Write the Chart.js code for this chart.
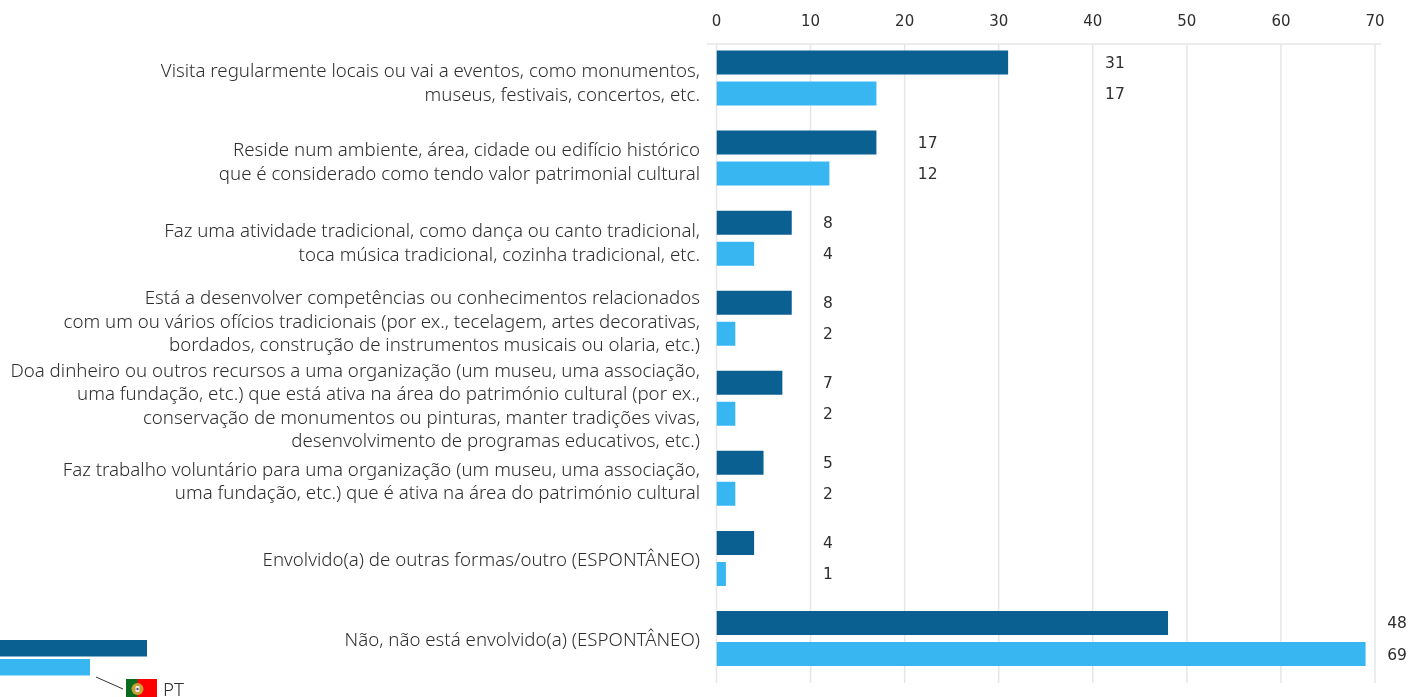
<!DOCTYPE html>
<html>
<head>
<meta charset="utf-8">
<style>
html, body { margin: 0; padding: 0; background: #fff; overflow: hidden; }
canvas { display: block; }
</style>
<script src="https://cdn.jsdelivr.net/npm/chart.js@4"></script>
</head>
<body>
<canvas id="grafico" width="1409" height="697"></canvas>
<script>
var categorias = [
    ["Visita regularmente locais ou vai a eventos, como monumentos,", "museus, festivais, concertos, etc."],
    ["Reside num ambiente, área, cidade ou edifício histórico", "que é considerado como tendo valor patrimonial cultural"],
    ["Faz uma atividade tradicional, como dança ou canto tradicional,", "toca música tradicional, cozinha tradicional, etc."],
    ["Está a desenvolver competências ou conhecimentos relacionados", "com um ou vários ofícios tradicionais (por ex., tecelagem, artes decorativas,", "bordados, construção de instrumentos musicais ou olaria, etc.)"],
    ["Doa dinheiro ou outros recursos a uma organização (um museu, uma associação,", "uma fundação, etc.) que está ativa na área do património cultural (por ex.,", "conservação de monumentos ou pinturas, manter tradições vivas,", "desenvolvimento de programas educativos, etc.)"],
    ["Faz trabalho voluntário para uma organização (um museu, uma associação,", "uma fundação, etc.) que é ativa na área do património cultural"],
    ["Envolvido(a) de outras formas/outro (ESPONTÂNEO)"],
    ["Não, não está envolvido(a) (ESPONTÂNEO)"]
]
var serieEscura = [31, 17, 8, 8, 7, 5, 4, 48]
var serieClara = [17, 12, 4, 2, 2, 2, 1, 69]
var ticksX = [0, 10, 20, 30, 40, 50, 60, 70]

// where the value column of each group sits, in axis units
var colunaValores = [42.35, 22.45, 11.85, 11.85, 11.85, 11.85, 11.85, 72.35]
// the text blocks are not quite centred on the bars
var desvioTexto = [5.5, 4.5, 5.5, 4, 8.5, 4, 2.5, 2.5]

var corEscura = "#0b6092"
var corClara = "#38b6f1"
var corTexto = "#2e2e2e"
var corGrelha = "#e6e6e6"
var fonteTexto = '300 18.7px "Noto Sans", sans-serif'
var fonteValor = '15.5px "DejaVu Sans", sans-serif'

const extras = {
    id: "extras",
    beforeDatasetsDraw(chart) {
        const c = chart.ctx
        const x = chart.scales.x
        c.save()
        c.strokeStyle = corGrelha
        c.lineWidth = 1.5
        ticksX.forEach(t => {
            const px = x.getPixelForValue(t)
            c.beginPath()
            c.moveTo(px, 44)
            c.lineTo(px, 683)
            c.stroke()
        })
        c.beginPath()
        c.moveTo(707, 44)
        c.lineTo(1381, 44)
        c.stroke()
        c.restore()
    },
    afterDatasetsDraw(chart) {
        const c = chart.ctx
        const x = chart.scales.x
        const y = chart.scales.y
        const meta0 = chart.getDatasetMeta(0).data
        const meta1 = chart.getDatasetMeta(1).data
        c.save()
        c.fillStyle = corTexto

        // category labels
        c.font = fonteTexto
        c.textAlign = "right"
        c.textBaseline = "middle"
        categorias.forEach((linhas, i) => {
            const meio = y.getPixelForValue(i) + desvioTexto[i]
            linhas.forEach((l, j) => {
                c.fillText(l, 700, meio + (j - (linhas.length - 1) / 2) * 23.4)
            })
        })

        // values
        c.font = fonteValor
        c.textAlign = "center"
        categorias.forEach((linhas, i) => {
            const px = x.getPixelForValue(colunaValores[i])
            c.fillText(serieEscura[i], px, meta0[i].y + 1.5)
            c.fillText(serieClara[i], px, meta1[i].y + 1.5)
        })

        // small key at the bottom left
        c.fillStyle = corEscura
        c.fillRect(0, 640, 147, 16.5)
        c.fillStyle = corClara
        c.fillRect(0, 659, 90, 16.5)
        c.strokeStyle = "#333333"
        c.lineWidth = 1
        c.beginPath()
        c.moveTo(96, 677)
        c.lineTo(123, 689)
        c.stroke()
        c.fillStyle = "#ff0000"
        c.fillRect(126, 679, 31, 18)
        c.fillStyle = "#0a6a1e"
        c.fillRect(126, 679, 11.5, 18)
        c.fillStyle = "#c8a030"
        c.beginPath()
        c.arc(137.5, 689, 6, 0, Math.PI * 2)
        c.fill()
        c.fillStyle = "#e8e8e8"
        c.fillRect(135.5, 686, 4, 6)
        c.fillStyle = "#4a5a90"
        c.fillRect(136.5, 688, 2, 2)
        c.fillStyle = corTexto
        c.font = fonteTexto
        c.textAlign = "left"
        c.fillText("PT", 163, 690.5)
        c.restore()
    }
}

var grafico = new Chart(document.getElementById("grafico"), {
    type: "bar",
    data: {
        labels: categorias.map(l => l.join(" ")),
        datasets: [{
            data: serieEscura,
            backgroundColor: corEscura
        }, {
            data: serieClara,
            backgroundColor: corClara
        }]
    },
    options: {
        indexAxis: "y",
        responsive: false,
        animation: false,
        categoryPercentage: 0.775,
        barPercentage: 0.774,
        layout: { padding: { top: 0, right: 34, bottom: 18.5, left: 0 } },
        plugins: {
            legend: { display: false },
            tooltip: { enabled: false }
        },
        scales: {
            x: {
                position: "top",
                min: 0,
                max: 70,
                afterFit: s => { s.height = 38 },
                afterBuildTicks: s => { s.ticks = ticksX.map(v => ({ value: v })) },
                border: { display: false },
                grid: { display: false },
                ticks: {
                    color: corTexto,
                    font: { family: "DejaVu Sans", size: 15 },
                    maxRotation: 0,
                    padding: -1
                }
            },
            y: {
                afterFit: s => { s.width = 716.5 },
                border: { display: false },
                grid: { display: false },
                ticks: { display: false }
            }
        }
    },
    plugins: [extras]
})
</script>
</body>
</html>
